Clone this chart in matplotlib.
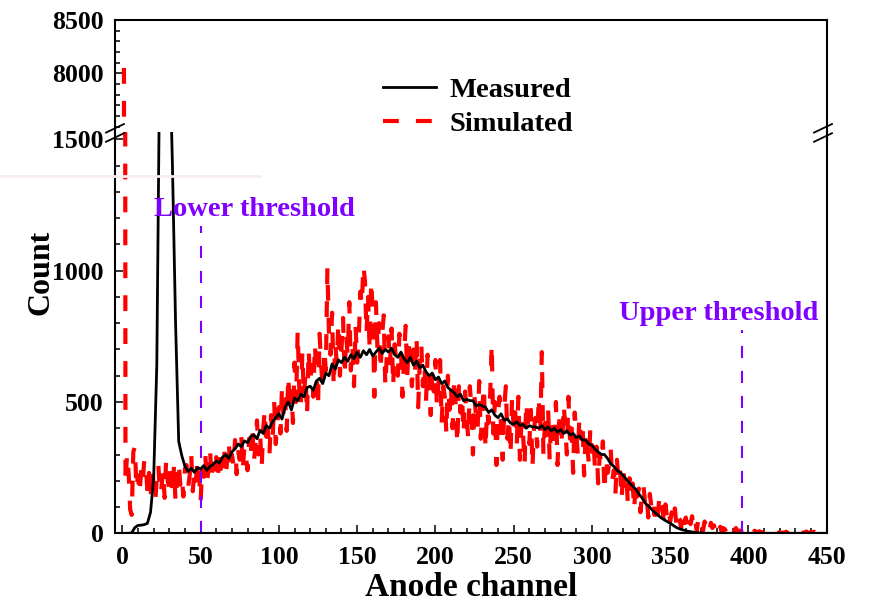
import matplotlib.pyplot as plt
import numpy as np
from matplotlib.lines import Line2D
from matplotlib.ticker import MultipleLocator

plt.rcParams['font.family'] = ['Liberation Serif', 'DejaVu Serif']
plt.rcParams['font.weight'] = 'bold'

# Measured spectrum (even channels 0..450)
meas_channel = np.arange(0, 451, 2)
meas_count = [
    0, 0, 0, 2, 22, 30, 31, 33, 38, 80,
    210, 640, 1900, 2600, 2700, 1900, 1400, 800, 350, 295,
    255, 235, 248, 232, 250, 245, 258, 240, 255, 262,
    275, 268, 290, 300, 285, 310, 322, 340, 330, 352,
    345, 368, 375, 360, 392, 380, 410, 400, 425, 440,
    455, 435, 480, 500, 470, 515, 505, 530, 520, 555,
    560, 545, 580, 590, 570, 610, 600, 645, 625, 660,
    650, 670, 655, 680, 665, 690, 670, 695, 680, 700,
    675, 690, 705, 685, 700, 690, 705, 680, 670, 690,
    665, 650, 670, 640, 655, 630, 640, 615, 600, 610,
    585, 595, 570, 580, 555, 545, 535, 520, 530, 505,
    510, 505, 505, 485, 490, 485, 480, 460, 470, 450,
    440, 455, 430, 435, 420, 415, 425, 410, 415, 400,
    410, 405, 405, 400, 410, 395, 405, 390, 400, 385,
    395, 380, 390, 375, 380, 365, 370, 355, 355, 340,
    335, 320, 310, 300, 300, 285, 265, 255, 240, 232,
    220, 205, 192, 180, 168, 150, 135, 115, 105, 92,
    80, 70, 60, 52, 45, 38, 30, 22, 17, 13,
    10, 7, 5, 3, 2, 1, 0, 0, 0, 0,
    0, 0, 0, 0, 0, 0, 0, 0, 0, 0,
    0, 0, 0, 0, 0, 0, 0, 0, 0, 0,
    0, 0, 0, 0, 0, 0, 0, 0, 0, 0,
    0, 0, 0, 0, 0, 0,
]

# Simulated spectrum (channels 1..445)
sim_channel = np.arange(1, 446)
sim_count = [
    8050, 190, 300, 230, 90, 70, 310, 330, 170, 220,
    150, 240, 195, 280, 265, 160, 230, 130, 250, 185,
    120, 210, 260, 150, 175, 240, 135, 285, 200, 170,
    230, 150, 255, 120, 200, 270, 185, 215, 140, 245,
    260, 175, 220, 300, 160, 240, 200, 280, 230, 120,
    250, 215, 300, 190, 240, 320, 205, 265, 230, 290,
    200, 310, 245, 270, 330, 215, 280, 350, 240, 300,
    260, 355, 225, 310, 280, 370, 250, 330, 290, 240,
    360, 290, 410, 270, 330, 430, 300, 380, 250, 400,
    470, 330, 390, 300, 450, 360, 500, 340, 420, 480,
    380, 560, 440, 510, 390, 600, 470, 540, 420, 650,
    500, 770, 560, 480, 690, 520, 610, 450, 700, 580,
    640, 520, 720, 600, 480, 760, 640, 560, 700, 620,
    1010, 760, 680, 840, 560, 720, 650, 800, 600, 700,
    820, 600, 750, 680, 880, 620, 710, 560, 790, 650,
    730, 920, 870, 1020, 960, 760, 900, 700, 960, 840,
    520, 880, 700, 800, 620, 760, 830, 560, 680, 750,
    640, 780, 560, 720, 650, 600, 760, 700, 520, 680,
    790, 600, 720, 640, 560, 700, 620, 740, 480, 650,
    720, 560, 640, 500, 680, 600, 450, 620, 540, 660,
    480, 580, 660, 420, 560, 520, 380, 600, 470, 550,
    400, 590, 480, 340, 560, 460, 520, 380, 540, 440,
    360, 560, 480, 300, 520, 440, 400, 580, 360, 480,
    560, 320, 470, 420, 530, 720, 380, 500, 260, 460,
    520, 400, 280, 480, 560, 360, 440, 300, 520, 400,
    460, 340, 520, 280, 430, 380, 260, 500, 420, 340,
    470, 250, 400, 440, 330, 520, 380, 690, 300, 420,
    360, 480, 280, 440, 380, 320, 500, 260, 420, 460,
    340, 490, 400, 300, 520, 360, 420, 230, 460, 380,
    300, 440, 360, 420, 220, 380, 330, 270, 400, 310,
    360, 240, 330, 190, 300, 270, 350, 160, 290, 230,
    260, 320, 200, 240, 150, 280, 200, 240, 130, 250,
    180, 220, 110, 210, 160, 190, 90, 200, 140, 170,
    80, 150, 180, 110, 140, 60, 150, 100, 130, 70,
    110, 60, 130, 80, 100, 40, 110, 60, 90, 45,
    80, 50, 95, 30, 70, 55, 20, 80, 40, 60,
    15, 55, 35, 65, 20, 45, 10, 55, 30, 40,
    10, 45, 25, 35, 8, 40, 20, 30, 5, 28,
    12, 25, 5, 20, 15, 3, 22, 8, 15, 4,
    12, 20, 3, 10, 6, 15, 2, 10, 4, 8,
    0, 6, 2, 10, 0, 5, 8, 0, 4, 0,
    3, 0, 6, 0, 2, 8, 0, 5, 0, 4,
    0, 3, 0, 6, 2, 0, 5, 0, 8, 0,
    4, 0, 6, 0, 3, 0, 7, 0, 2, 5,
    0, 6, 0, 3, 0,
]

lower_threshold = 50
upper_threshold = 396

fig = plt.figure(figsize=(8.69, 6.05), dpi=100)
W, H = 869, 605
left, right = 115 / W, 826.7 / W
y_top, y_brk, y_bot = 1 - 20 / H, 1 - 132 / H, 1 - 533.3 / H
ax_top = fig.add_axes([left, y_brk, right - left, y_top - y_brk])
ax_low = fig.add_axes([left, y_bot, right - left, y_brk - y_bot])

for ax in (ax_top, ax_low):
    ax.plot(sim_channel, sim_count, color='red', lw=3, dashes=(3.8, 4.1),
            label='Simulated')
    ax.plot(meas_channel, meas_count, color='black', lw=2, label='Measured')
    ax.set_xlim(-4.7, 450)
    for s in ax.spines.values():
        s.set_linewidth(1.5)
    ax.yaxis.set_minor_locator(MultipleLocator(100))
    ax.tick_params(which='major', direction='in', length=6, width=1.1,
                   labelsize=18.5, pad=8)
    ax.tick_params(which='minor', direction='in', length=3.3, width=1.1)

ax_top.set_ylim(7449, 8500)
ax_top.set_yticks([8000, 8500])
ax_top.spines['bottom'].set_visible(False)
ax_top.tick_params(axis='x', which='both', bottom=False, labelbottom=False)

ax_low.set_ylim(0, 1528)
ax_low.set_yticks([0, 500, 1000, 1500])
ax_low.spines['top'].set_visible(False)
ax_low.xaxis.set_major_locator(MultipleLocator(50))
ax_low.xaxis.set_minor_locator(MultipleLocator(10))
ax_low.tick_params(axis='x', which='major', pad=9)

# thresholds
purple = '#8000ff'
ax_low.plot([lower_threshold, lower_threshold], [0, 1170], color=purple,
            lw=1.5, dashes=(5.8, 6.2))
ax_low.plot([upper_threshold, upper_threshold], [0, 775], color=purple,
            lw=1.5, dashes=(5.8, 6.2))
ax_low.text(84.4, 1209, 'Lower threshold', color=purple, fontsize=20.5,
            ha='center', va='baseline')
ax_low.text(380.7, 813, 'Upper threshold', color=purple, fontsize=20.5,
            ha='center', va='baseline')

# axis break marks
for xc in (115, 823):
    for yc in (128.3, 137.5):
        fig.add_artist(Line2D([(xc - 9) / W, (xc + 9) / W],
                              [1 - (yc + 4.3) / H, 1 - (yc - 4.3) / H],
                              color='black', lw=1.3, transform=fig.transFigure))

handles = [ax_low.lines[1], ax_low.lines[0]]
fig.legend(handles, ['Measured', 'Simulated'], loc='upper left',
           bbox_to_anchor=(383 / W, 1 - 77 / H), frameon=False, fontsize=20.5,
           handlelength=1.85, handletextpad=0.5, labelspacing=0.3,
           borderpad=0, borderaxespad=0)

fig.text(41 / W, 1 - 272 / H, 'Count', rotation=90, fontsize=23,
         ha='center', va='center')
fig.text(471 / W, 1 - 588 / H, 'Anode channel', fontsize=24,
         ha='center', va='center')

# faint page artifact on the left
fig.add_artist(Line2D([0, 260 / W], [1 - 176 / H] * 2, color='#f7eeee',
                      lw=2, transform=fig.transFigure))

fig.savefig('out.png', dpi=100)
